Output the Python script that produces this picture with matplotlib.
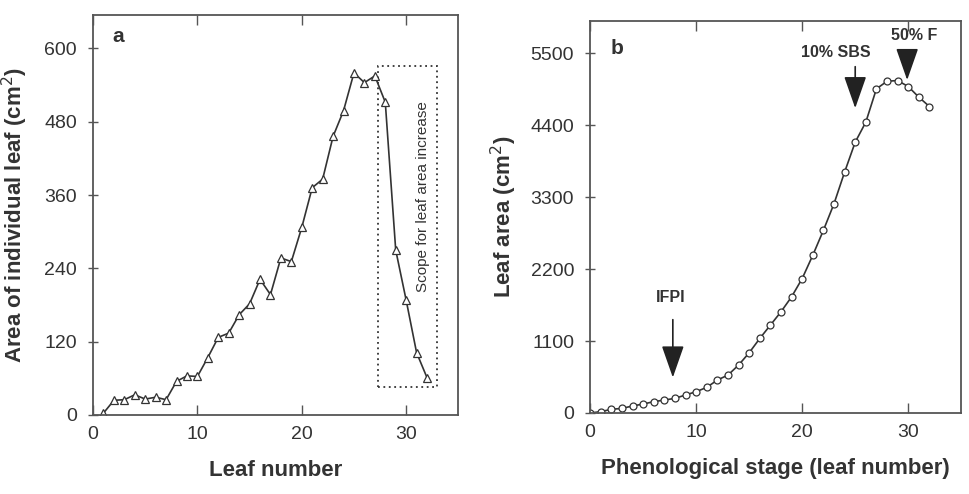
import matplotlib
matplotlib.use("Agg")
import matplotlib.pyplot as plt

plt.rcParams['font.family'] = ['Liberation Sans Narrow', 'Liberation Sans', 'DejaVu Sans']

# panel a: area of each individual leaf
leaf_no = list(range(1, 33))
leaf_area = [3, 24, 25, 33, 26, 29, 25, 55, 64, 63, 94, 127, 134, 164, 182, 222,
             197, 257, 251, 307, 372, 386, 456, 498, 560, 544, 555, 512, 270, 188, 102, 61]

# panel b: total leaf area by phenological stage
stage = list(range(0, 33))
total_area = [0, 20, 56, 70, 107, 137, 173, 198, 224, 275, 326, 392, 504, 580, 733, 921,
              1140, 1344, 1548, 1777, 2057, 2413, 2794, 3201, 3685, 4143, 4449, 4958,
              5075, 5085, 4994, 4831, 4688]

# arrows: label, x, text position, arrow start y, arrow tip y
events = ['IFPI', '10% SBS', '50% F']
event_x = [7.8, 25.0, 29.9]
event_text_x = [7.6, 23.2, 30.6]
event_text_y = [1770, 5510, 5770]
event_start = [1470, 5340, 5590]
event_tip = [500, 4620, 5050]

ink = '#333333'
fig = plt.figure(figsize=(9.69, 4.94), dpi=100)
ax1 = fig.add_axes([0.096, 0.160, 0.377, 0.810])
ax2 = fig.add_axes([0.609, 0.164, 0.383, 0.794])

ax1.plot(leaf_no, leaf_area, color=ink, lw=1.2, marker='^', ms=6,
         markerfacecolor='white', markeredgecolor=ink, markeredgewidth=0.9)
ax1.add_patch(plt.Rectangle((27.3, 46), 5.7, 525, fill=False, ls=(0, (1, 2)),
                            lw=1.3, ec=ink))
ax1.text(31.6, 357, 'Scope for leaf area increase', rotation=90, ha='center',
         va='center', fontsize=11, color=ink)
ax1.text(2.4, 620, 'a', fontsize=15, fontweight='bold', color=ink, ha='center', va='center')
ax1.set_xlim(0, 35)
ax1.set_ylim(0, 655)
ax1.set_xticks([0, 10, 20, 30])
ax1.set_yticks([0, 120, 240, 360, 480, 600])
ax1.set_xlabel('Leaf number', fontsize=16, fontweight='bold', color=ink, labelpad=12)
ax1.set_ylabel('Area of individual leaf (cm$^2$)', fontsize=16, fontweight='bold',
               color=ink, labelpad=10)

ax2.plot(stage, total_area, color=ink, lw=1.2, marker='o', ms=5,
         markerfacecolor='white', markeredgecolor=ink, markeredgewidth=0.9)
for lab, x, tx, ty, y0, y1 in zip(events, event_x, event_text_x, event_text_y,
                                  event_start, event_tip):
    ax2.annotate('', xy=(x, y1), xytext=(x, y0),
                 arrowprops=dict(arrowstyle='-|>,head_width=0.7,head_length=2.0',
                                 color='#222222', lw=1.2))
    ax2.text(tx, ty, lab, ha='center', va='center', fontsize=11.5,
             fontweight='bold', color=ink)
ax2.text(2.5, 5570, 'b', fontsize=15, fontweight='bold', color=ink, ha='center', va='center')
ax2.set_xlim(0, 35)
ax2.set_ylim(0, 6000)
ax2.set_xticks([0, 10, 20, 30])
ax2.set_yticks([0, 1100, 2200, 3300, 4400, 5500])
ax2.set_xlabel('Phenological stage (leaf number)', fontsize=16, fontweight='bold',
               color=ink, labelpad=12)
ax2.set_ylabel('Leaf area (cm$^2$)', fontsize=16, fontweight='bold', color=ink, labelpad=8)

for ax in (ax1, ax2):
    for s in ax.spines.values():
        s.set_color('#555555')
        s.set_linewidth(1.3)
    ax.tick_params(axis='both', direction='inout', length=7, width=1.0,
                   colors='#555555', labelcolor=ink, labelsize=14, pad=8)
    ax.tick_params(top=True, direction='in')
    ax.tick_params(axis='y', direction='inout')

fig.savefig('out.png', dpi=100)
